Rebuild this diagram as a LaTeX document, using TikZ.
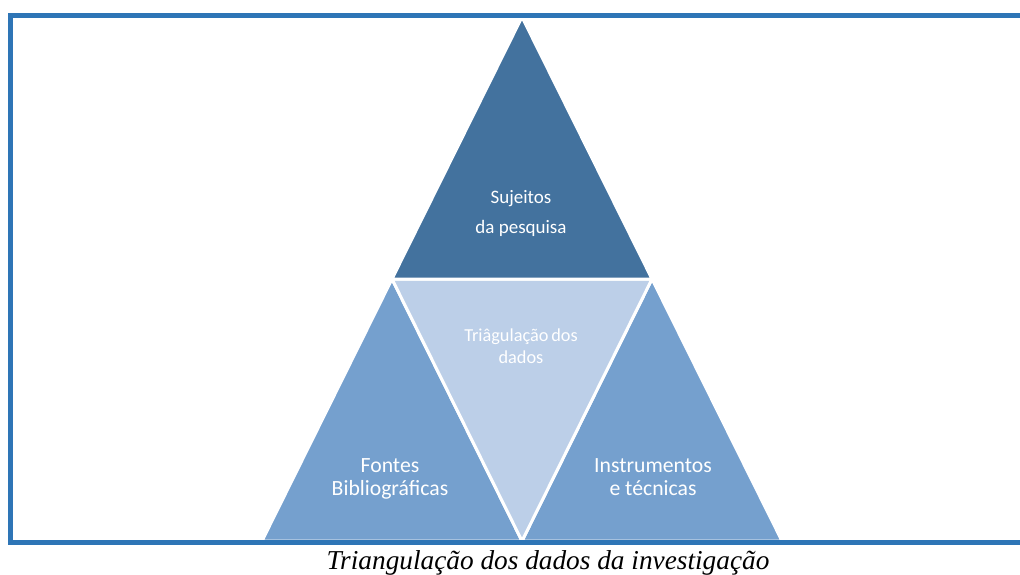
\documentclass[tikz,border=0pt]{standalone}
\usepackage{fontspec}
\setmainfont{Liberation Serif}
\newfontfamily\lbl{Carlito}
\definecolor{topc}{RGB}{67,114,158}
\definecolor{sidec}{RGB}{117,160,206}
\definecolor{midc}{RGB}{188,207,232}
\definecolor{framec}{RGB}{46,117,182}
\tikzset{
  tri/.style={draw=white,line width=3pt,line join=miter},
  lab/.style={text=white,anchor=base,inner sep=0pt,font=\lbl},
}
\begin{document}
\begin{tikzpicture}[x=1pt,y=-1pt]
\useasboundingbox (0,0) rectangle (1020,575);
\fill[white] (0,0) rectangle (1020,575);
% triangles
\coordinate (A) at (522,17);
\coordinate (L) at (392,279);
\coordinate (R) at (652,279);
\coordinate (BL) at (262,541);
\coordinate (BM) at (522,541);
\coordinate (BR) at (782,541);
\filldraw[tri,fill=sidec] (L) -- (BL) -- (BM) -- cycle;
\filldraw[tri,fill=sidec] (R) -- (BM) -- (BR) -- cycle;
\filldraw[tri,fill=midc] (L) -- (R) -- (BM) -- cycle;
\filldraw[tri,fill=topc] (A) -- (L) -- (R) -- cycle;
% labels
\node[lab,font=\lbl\fontsize{19}{19}\selectfont] (s1) at (521,203) {Sujeitos};
\node[lab,font=\lbl\fontsize{19}{19}\selectfont] (s2) at (521,233) {da pesquisa};
\node[lab,font=\lbl\fontsize{18.3}{18.3}\selectfont] (t1) at (521,341) {Triâgulação\hspace{0.15em}dos};
\node[lab,font=\lbl\fontsize{18.3}{18.3}\selectfont] (t2) at (521,363) {dados};
\node[lab,font=\lbl\fontsize{21.7}{21.7}\selectfont] (f1) at (390,472) {Fontes};
\node[lab,font=\lbl\fontsize{21.7}{21.7}\selectfont] (f2) at (390,495) {Bibliográficas};
\node[lab,font=\lbl\fontsize{21.7}{21.7}\selectfont] (i1) at (653,472) {Instrumentos};
\node[lab,font=\lbl\fontsize{21.7}{21.7}\selectfont] (i2) at (653,495) {e técnicas};
% frame
\draw[framec,line width=5pt,line join=miter] (1021,15.2) -- (10.5,15.2) -- (10.5,542) -- (1021,542);
% caption
\node[anchor=base,inner sep=0pt,font=\itshape\fontsize{27.3}{27.3}\selectfont] (cap) at (548,569) {Triangulação dos dados da investigação};
\end{tikzpicture}
\end{document}
